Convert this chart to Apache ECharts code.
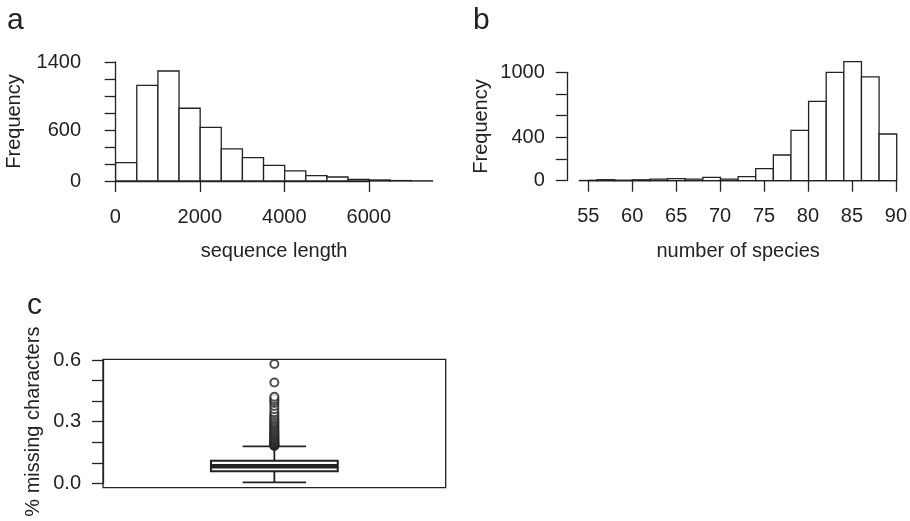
<!DOCTYPE html>
<html>
<head>
<meta charset="utf-8">
<script src="https://cdn.jsdelivr.net/npm/echarts@6/dist/echarts.min.js"></script>
<style>
  html, body { margin: 0; padding: 0; background: #fff; }
  #chart { width: 910px; height: 521px; }
</style>
</head>
<body>
<div id="chart"></div>
<script>
// panel a: sequence length histogram
const aBreaks = [0, 500, 1000, 1500, 2000, 2500, 3000, 3500, 4000, 4500, 5000, 5500, 6000, 6500, 7000, 7500];
const aCounts = [217, 1124, 1294, 856, 631, 379, 276, 185, 118, 63, 47, 20, 12, 5, 2];
const aYLabels = [0, 600, 1400];
// panel b: number of species histogram
const bBreaks = [54, 56, 58, 60, 62, 64, 66, 68, 70, 72, 74, 76, 78, 80, 82, 84, 86, 88, 90];
const bCounts = [2, 9, 3, 8, 15, 20, 15, 30, 15, 37, 111, 237, 465, 732, 1000, 1098, 957, 431];
const bYLabels = [0, 400, 1000];
// panel c: boxplot of missing characters
const cStats = [0.003, 0.057, 0.081, 0.108, 0.178]; // low whisker, Q1, median, Q3, high whisker
const cOutliers = [0.18, 0.182, 0.185, 0.188, 0.19, 0.193, 0.196, 0.2, 0.204, 0.208, 0.212, 0.216,
  0.22, 0.225, 0.23, 0.235, 0.24, 0.245, 0.25, 0.256, 0.262, 0.268, 0.274, 0.28, 0.287, 0.294,
  0.3, 0.308, 0.316, 0.325, 0.335, 0.345, 0.36, 0.375, 0.39, 0.4, 0.41, 0.42, 0.49, 0.58];
const cYLabels = [0, 0.3, 0.6];

const ink = '#222';
const font = '"Liberation Sans", Arial, sans-serif';

function bins(breaks, counts) {
  return counts.map((c, i) => [breaks[i], breaks[i + 1], c]);
}

function histItem(params, api) {
  const p0 = api.coord([api.value(0), api.value(2)]);
  const p1 = api.coord([api.value(1), 0]);
  return {
    type: 'rect',
    shape: { x: p0[0], y: p0[1], width: p1[0] - p0[0], height: p1[1] - p0[1] },
    style: { fill: '#fff', stroke: ink, lineWidth: 1.3 }
  };
}

function boxItem(params, api) {
  const x = api.value(0);
  const band = api.size([1, 0])[0];
  const bw = band * 0.37, cw = band * 0.185;
  const cx = api.coord([x, 0])[0];
  const y = i => api.coord([x, api.value(i)])[1];
  const lo = y(1), q1 = y(2), med = y(3), q3 = y(4), hi = y(5);
  const st = { stroke: ink, lineWidth: 1.8, fill: null };
  return {
    type: 'group',
    children: [
      { type: 'line', shape: { x1: cx, y1: q3, x2: cx, y2: hi }, style: st },
      { type: 'line', shape: { x1: cx, y1: q1, x2: cx, y2: lo }, style: st },
      { type: 'line', shape: { x1: cx - cw / 2, y1: hi, x2: cx + cw / 2, y2: hi }, style: st },
      { type: 'line', shape: { x1: cx - cw / 2, y1: lo, x2: cx + cw / 2, y2: lo }, style: st },
      { type: 'rect', shape: { x: cx - bw / 2, y: q3, width: bw, height: q1 - q3 }, style: { stroke: ink, lineWidth: 2, fill: '#fff' } },
      { type: 'line', shape: { x1: cx - bw / 2, y1: med, x2: cx + bw / 2, y2: med }, style: { stroke: ink, lineWidth: 4.5 } }
    ]
  };
}

const txt = { color: ink, fontFamily: font, fontSize: 20 };
const line = { show: true, lineStyle: { color: ink, width: 1.3 } };
const tick = { show: true, inside: false, length: 11, lineStyle: { color: ink, width: 1.3 } };
const off = { show: false };
const plain = v => String(v);

const option = {
  animation: false,
  backgroundColor: '#fff',
  textStyle: { fontFamily: font },
  title: [
    { text: 'a', left: 7, top: 6, padding: 0, textStyle: { fontSize: 30, fontWeight: 'normal', color: ink, fontFamily: font } },
    { text: 'b', left: 473, top: 6, padding: 0, textStyle: { fontSize: 30, fontWeight: 'normal', color: ink, fontFamily: font } },
    { text: 'c', left: 27, top: 291, padding: 0, textStyle: { fontSize: 30, fontWeight: 'normal', color: ink, fontFamily: font } }
  ],
  grid: [
    // a: data region and x-axis span
    { left: 103, top: 62, width: 342.2, height: 119 },
    { left: 115.3, top: 62, width: 253.5, height: 119 },
    // b
    { left: 566.8, top: 72.3, width: 342.6, height: 108.4 },
    { left: 588.3, top: 72.3, width: 308.4, height: 108.4 },
    // c: plot frame and y-axis span
    { left: 103, top: 359.3, width: 342.7, height: 128.4, show: true, borderColor: ink, borderWidth: 1.3, backgroundColor: 'transparent' },
    { left: 103, top: 360, width: 342.7, height: 123.3 }
  ],
  xAxis: [
    { gridIndex: 0, type: 'value', min: -300, max: 7800, axisLine: off, axisTick: off, axisLabel: off, splitLine: off,
      name: 'sequence length', nameLocation: 'middle', nameGap: 60, nameTextStyle: txt },
    { gridIndex: 1, type: 'value', min: 0, max: 6000, interval: 2000, offset: 5, axisLine: line, axisTick: tick,
      axisLabel: Object.assign({ margin: 21, formatter: plain }, txt), splitLine: off },
    { gridIndex: 2, type: 'value', min: 52.56, max: 91.44, axisLine: off, axisTick: off, axisLabel: off, splitLine: off,
      name: 'number of species', nameLocation: 'middle', nameGap: 61, nameTextStyle: txt },
    { gridIndex: 3, type: 'value', min: 55, max: 90, interval: 5, offset: 5, axisLine: line, axisTick: tick,
      axisLabel: Object.assign({ margin: 21, formatter: plain }, txt), splitLine: off },
    { gridIndex: 4, type: 'category', data: ['all'], axisLine: off, axisTick: off, axisLabel: off },
    { gridIndex: 5, type: 'value', show: false }
  ],
  yAxis: [
    { gridIndex: 0, type: 'value', min: 0, max: 1400, interval: 200, axisLine: line, axisTick: tick, splitLine: off,
      axisLabel: Object.assign({ margin: 22, formatter: v => aYLabels.includes(v) ? String(v) : '' }, txt),
      name: 'Frequency', nameLocation: 'middle', nameGap: 79, nameTextStyle: txt },
    { gridIndex: 1, type: 'value', min: 0, max: 1400, show: false },
    { gridIndex: 2, type: 'value', min: 0, max: 1000, interval: 200, axisLine: line, axisTick: tick, splitLine: off,
      axisLabel: Object.assign({ margin: 22, formatter: v => bYLabels.includes(v) ? String(v) : '' }, txt),
      name: 'Frequency', nameLocation: 'middle', nameGap: 75, nameTextStyle: txt },
    { gridIndex: 3, type: 'value', min: 0, max: 1000, show: false },
    { gridIndex: 4, type: 'value', min: -0.023, max: 0.603, axisLine: off, axisTick: off, axisLabel: off, splitLine: off },
    { gridIndex: 5, type: 'value', min: 0, max: 0.6, interval: 0.1, axisLine: line, axisTick: tick, splitLine: off,
      axisLabel: Object.assign({ margin: 22, formatter: v => cYLabels.some(l => Math.abs(l - v) < 1e-9) ? v.toFixed(1) : '' }, txt),
      name: '% missing characters', nameLocation: 'middle', nameGap: 60, nameTextStyle: txt }
  ],
  series: [
    { type: 'custom', xAxisIndex: 0, yAxisIndex: 0, data: bins(aBreaks, aCounts), encode: { x: [0, 1], y: 2 }, renderItem: histItem, clip: false },
    { type: 'custom', xAxisIndex: 2, yAxisIndex: 2, data: bins(bBreaks, bCounts), encode: { x: [0, 1], y: 2 }, renderItem: histItem, clip: false },
    { type: 'custom', xAxisIndex: 4, yAxisIndex: 4, data: [[0].concat(cStats)], encode: { x: 0, y: [1, 2, 3, 4, 5] }, renderItem: boxItem },
    { type: 'scatter', xAxisIndex: 4, yAxisIndex: 4, data: cOutliers.map(v => [0, v]), symbol: 'emptyCircle', symbolSize: 8,
      itemStyle: { color: ink, borderColor: ink, borderWidth: 2 } }
  ]
};

const chart = echarts.init(document.getElementById('chart'));
chart.setOption(option);
</script>
</body>
</html>
